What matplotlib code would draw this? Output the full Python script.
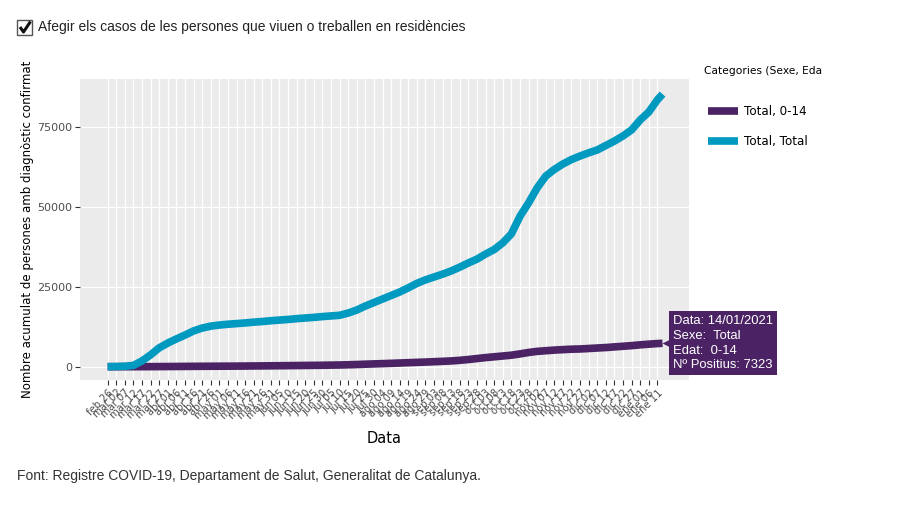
import numpy as np
import pandas as pd
import matplotlib
matplotlib.use('Agg')
import matplotlib.pyplot as plt
import matplotlib.dates as mdates
from matplotlib.lines import Line2D
from matplotlib.patches import Rectangle
from matplotlib.transforms import offset_copy

# dates: one point every 5 days + the last day (14/01/2021)
dates = list(pd.date_range('2020-02-26', '2021-01-11', freq='5D')) + [pd.Timestamp('2021-01-14')]

# cumulative confirmed cases
total_total = [5, 50, 150, 400, 1800, 3700, 5900, 7400, 8700, 9900,
               11200, 12100, 12700, 13050, 13300, 13500, 13700, 13950, 14150, 14400,
               14600, 14800, 15050, 15250, 15450, 15700, 15900, 16100, 16800, 17750,
               19000, 20100, 21200, 22300, 23400, 24700, 26100, 27200, 28100, 29000,
               30000, 31200, 32500, 33700, 35300, 36700, 38800, 41600, 47100, 51300,
               56000, 59700, 61800, 63500, 64900, 66000, 67000, 67900, 69300, 70700,
               72300, 74200, 77300, 79800, 83600, 85400]
total_0_14 = [0, 0, 0, 0, 5, 15, 30, 50, 70, 90,
              110, 125, 140, 150, 165, 180, 200, 225, 250, 275,
              300, 330, 360, 390, 420, 450, 490, 530, 600, 680,
              780, 870, 960, 1050, 1150, 1250, 1350, 1450, 1560, 1680,
              1800, 2000, 2250, 2550, 2850, 3100, 3350, 3600, 4000, 4450,
              4800, 5000, 5200, 5350, 5480, 5550, 5700, 5850, 6000, 6200,
              6400, 6600, 6850, 7050, 7250, 7323]

series_labels = ['Total, 0-14', 'Total, Total']
mesos = ['ene', 'feb', 'mar', 'abr', 'may', 'jun', 'jul', 'ago', 'sep', 'oct', 'nov', 'dic']
tick_dates = dates[:-1]
tick_labels = [f"{mesos[d.month - 1]} {d.day:02d}" for d in tick_dates]
y_ticks = [0, 25000, 50000, 75000]

purple = '#4B2364'
teal = '#0099BF'

fig = plt.figure(figsize=(9.23, 5.26), dpi=100)
ax = fig.add_axes([80 / 923, 1 - 380 / 526, 609 / 923, 301 / 526])
ax.set_facecolor('#EBEBEB')
for s in ax.spines.values():
    s.set_visible(False)

l1, = ax.plot(dates, total_0_14, color=purple, lw=5.5, solid_capstyle='butt', solid_joinstyle='round', zorder=3)
l2, = ax.plot(dates, total_total, color=teal, lw=5.5, solid_capstyle='butt', solid_joinstyle='round', zorder=4)

x0 = mdates.date2num(dates[0])
ax.set_xlim(x0 - 16.1, x0 + 338.4)
ax.set_ylim(-4170, 90130)

ax.set_xticks(tick_dates)
ax.set_xticklabels(tick_labels, rotation=45, ha='right', rotation_mode='anchor',
                   fontsize=7.2, color='#4D4D4D')
ax.set_yticks(y_ticks)
ax.set_yticklabels([str(v) for v in y_ticks], fontsize=8, color='#4D4D4D')
ax.tick_params(axis='both', length=3.5, width=0.8, color='#333333', pad=2)
ax.grid(True, color='white', lw=0.9)
ax.set_axisbelow(True)

ax.set_xlabel('Data', fontsize=10.5)
ax.xaxis.set_label_coords(0.5, -0.17)
ax.set_ylabel('Nombre acumulat de persones amb diagnòstic confirmat', fontsize=8.5)
ax.yaxis.set_label_coords(-0.076, 0.5)

# hover label at the last point
ptr = offset_copy(ax.transData, fig=fig, x=4, y=0, units='dots')
ax.plot([dates[-1]], [total_0_14[-1]], marker='<', ms=7, color=purple, mec='none',
        transform=ptr, clip_on=False, zorder=5)
d = dates[-1]
txt = (f"Data: {d.day:02d}/{d.month:02d}/{d.year}\nSexe:  Total\nEdat:  0-14\n"
       f"Nº Positius: {total_0_14[-1]}")
ax.annotate(txt, xy=(d, total_0_14[-1]), xytext=(7.5, 0), textcoords='offset points',
            ha='left', va='center', color='white', fontsize=9.4, family='Liberation Sans',
            linespacing=1.3, annotation_clip=False, zorder=6,
            bbox=dict(boxstyle='square,pad=0.3', fc=purple, ec='none'))

# legend
fig.text(704 / 923, 1 - 71 / 526, 'Categories (Sexe, Eda', fontsize=7.7, va='center', ha='left')
fig.legend([l1, l2], series_labels, loc='upper left', bbox_to_anchor=(708 / 923, 1 - 105 / 526),
           bbox_transform=fig.transFigure, frameon=False, fontsize=8.6, borderpad=0,
           borderaxespad=0, handlelength=2.5, handletextpad=0.5, labelspacing=1.45)

# checkbox
fig.patches.append(Rectangle((17 / 923, 1 - 35 / 526), 15 / 923, 15 / 526, transform=fig.transFigure,
                             fc='white', ec='#555555', lw=1))
fig.lines.append(Line2D([20 / 923, 23.5 / 923, 30.5 / 923], [1 - 27 / 526, 1 - 32 / 526, 1 - 21.5 / 526],
                        transform=fig.transFigure, color='#111111', lw=2.2, solid_capstyle='butt'))
fig.text(38 / 923, 1 - 27.5 / 526,
         'Afegir els casos de les persones que viuen o treballen en residències',
         fontsize=10, family='Liberation Sans', va='center', ha='left', color='#222222')

fig.text(17 / 923, 1 - 476 / 526,
         'Font: Registre COVID-19, Departament de Salut, Generalitat de Catalunya.',
         fontsize=10, family='Liberation Sans', va='center', ha='left', color='#333333')

fig.savefig('out.png', dpi=100)
